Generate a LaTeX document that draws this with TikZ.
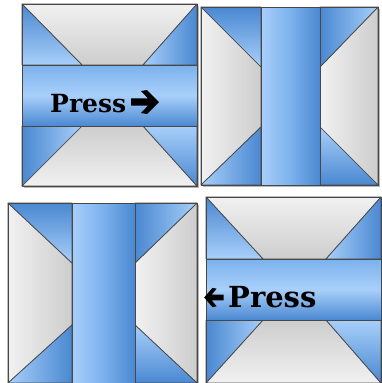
\documentclass[tikz,border=0pt]{standalone}
\usepackage{fontspec}
\newfontfamily\pressfont{DejaVu Serif}
\definecolor{bluedark}{HTML}{4A88D1}
\definecolor{bluelight}{HTML}{A8CFFA}
\definecolor{bluemid}{HTML}{7CB1EC}
\definecolor{graylight}{HTML}{F1F1F1}
\definecolor{graydark}{HTML}{CDCDCD}
\definecolor{edgec}{HTML}{474747}
\definecolor{shadowc}{HTML}{B8B8B8}
\tikzset{
  edgeline/.style={draw=edgec, line width=0.7pt, line join=round},
  grayv/.style={edgeline, top color=graylight, bottom color=graydark},
  grayvr/.style={edgeline, top color=graydark, bottom color=graylight},
  grayh/.style={edgeline, left color=graylight, right color=graydark},
  bandh/.style={edgeline, top color=bluemid, bottom color=bluedark, middle color=bluelight},
  bandv/.style={edgeline, left color=bluelight, right color=bluedark, middle color=bluemid},
  tridl/.style={edgeline, top color=bluedark, bottom color=bluelight},
  tridu/.style={edgeline, top color=bluelight, bottom color=bluedark},
  trilr/.style={edgeline, left color=bluelight, right color=bluedark},
  trirl/.style={edgeline, left color=bluedark, right color=bluelight},
  tileframe/.style={draw=edgec, line width=0.8pt},
  tileshadow/.style={fill=shadowc},
  presstext/.style={inner sep=0pt, anchor=base west, text=black},
  heavyarrow/.style={fill=black, line join=miter},
}
% horizontal-band tile: x0 y0 x1 y1 b0 b1 t0 t1
\newcommand\quiltH[8]{%
  \fill[tileshadow] (#1+1.5,#2+1.5) rectangle (#3+1.5,#4+1.5);
  \path[grayv] (#1,#2) -- (#3,#2) -- (#8,#5) -- (#7,#5) -- cycle;
  \path[grayvr] (#7,#6) -- (#8,#6) -- (#3,#4) -- (#1,#4) -- cycle;
  \path[tridl] (#1,#2) -- (#7,#5) -- (#1,#5) -- cycle;
  \path[trilr] (#3,#2) -- (#3,#5) -- (#8,#5) -- cycle;
  \path[trirl] (#1,#6) -- (#7,#6) -- (#1,#4) -- cycle;
  \path[tridu] (#8,#6) -- (#3,#6) -- (#3,#4) -- cycle;
  \path[bandh] (#1,#5) rectangle (#3,#6);
  \draw[tileframe] (#1,#2) rectangle (#3,#4);
}
% vertical-band tile: x0 y0 x1 y1 c0 c1 s0 s1
\newcommand\quiltV[8]{%
  \fill[tileshadow] (#1+1.5,#2+1.5) rectangle (#3+1.5,#4+1.5);
  \path[grayh] (#1,#2) -- (#5,#7) -- (#5,#8) -- (#1,#4) -- cycle;
  \path[grayh] (#3,#2) -- (#6,#7) -- (#6,#8) -- (#3,#4) -- cycle;
  \path[tridl] (#1,#2) -- (#5,#2) -- (#5,#7) -- cycle;
  \path[trirl] (#6,#2) -- (#3,#2) -- (#6,#7) -- cycle;
  \path[trilr] (#5,#8) -- (#5,#4) -- (#1,#4) -- cycle;
  \path[tridu] (#6,#8) -- (#3,#4) -- (#6,#4) -- cycle;
  \path[bandv] (#5,#2) rectangle (#6,#4);
  \draw[tileframe] (#1,#2) rectangle (#3,#4);
}
% heavy arrow pointing right, shaft start at origin, length 28, height 24
\newcommand\heavyArrowPath{%
  (0,-3.6) -- (17,-3.6) -- (10,-11) -- (16,-12) -- (28,0) -- (16,12) -- (10,11) -- (17,3.6) -- (0,3.6) -- cycle}
\begin{document}
\begin{tikzpicture}[x=1pt, y=-1pt]
  \useasboundingbox[fill=white] (0,0) rectangle (381,383);
  \quiltH{22}{4}{197}{186}{65}{126}{82}{143}
  \quiltV{201}{7}{378}{185}{261}{320}{67}{127}
  \quiltV{8}{203}{197}{383}{72}{135}{263}{325}
  \quiltH{206}{197}{381}{383}{259}{320}{263}{326}
  \node[presstext, font=\pressfont\bfseries\fontsize{25}{26}\selectfont] (press1) at (50,112) {Press};
  \begin{scope}[shift={(131,102)}]
    \fill[heavyarrow] \heavyArrowPath;
  \end{scope}
  \begin{scope}[shift={(223.5,297.5)}, xscale=-0.69, yscale=0.8]
    \fill[heavyarrow] \heavyArrowPath;
  \end{scope}
  \node[presstext, font=\pressfont\bfseries\fontsize{29}{30}\selectfont] (press2) at (228,307) {Press};
\end{tikzpicture}
\end{document}
